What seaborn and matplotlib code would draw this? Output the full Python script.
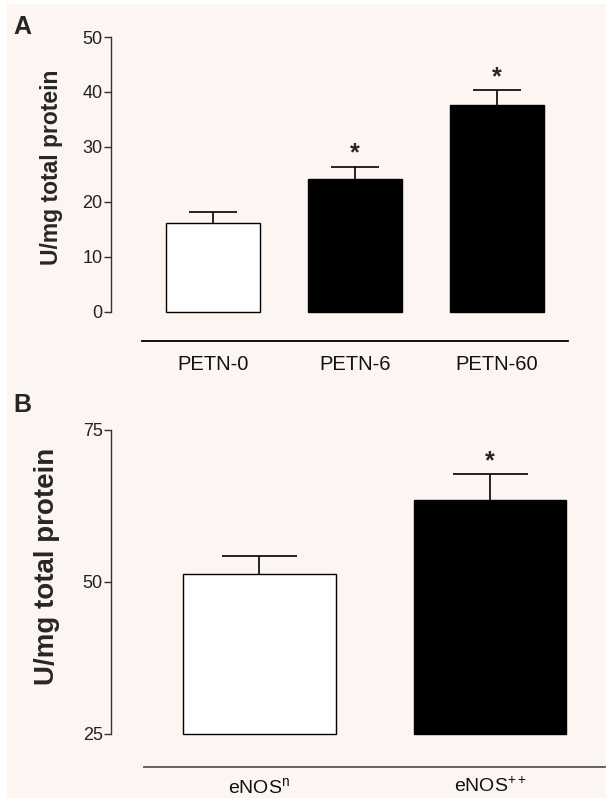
import matplotlib
matplotlib.use("Agg")
import matplotlib.pyplot as plt
import seaborn as sns
import pandas as pd
from matplotlib.patches import Rectangle

# ---- data ----
cats_a = ["PETN-0", "PETN-6", "PETN-60"]
vals_a = [16.1, 24.1, 37.6]
err_a = [2.0, 2.3, 2.7]
sig_a = [False, True, True]
colors_a = ["white", "black", "black"]
yticks_a = [0, 10, 20, 30, 40, 50]

cats_b = [r"eNOS$^{\mathregular{n}}$", r"eNOS$^{\mathregular{++}}$"]
vals_b = [51.3, 63.5]
err_b = [3.0, 4.2]
sig_b = [False, True]
colors_b = ["white", "black"]
yticks_b = [25, 50, 75]
base_b = 25

bg = "#FDF5F2"
sns.set_theme(style="ticks")
plt.rcParams["font.family"] = ["Liberation Sans", "DejaVu Sans"]
plt.rcParams["mathtext.fontset"] = "custom"
plt.rcParams["mathtext.rm"] = "Liberation Sans"
plt.rcParams["mathtext.it"] = "Liberation Sans"

W, H = 606, 798
fig = plt.figure(figsize=(W / 100, H / 100), dpi=100, facecolor=bg)
fig.patches.append(Rectangle((0, 0), 7 / W, 1, transform=fig.transFigure,
                             facecolor="white", edgecolor="none", zorder=0))
fig.patches.append(Rectangle((0, 1 - 4 / H), 1, 4 / H, transform=fig.transFigure,
                             facecolor="white", edgecolor="none", zorder=0))


def px_axes(left, right, top, bottom):
    return fig.add_axes([left / W, 1 - bottom / H, (right - left) / W, (bottom - top) / H])


def style(ax, ymin_spine, ymax_spine, ncat, linecol):
    ax.set_facecolor("none")
    for s in ["top", "right"]:
        ax.spines[s].set_visible(False)
    ax.spines["left"].set_bounds(ymin_spine, ymax_spine)
    ax.spines["left"].set_color("#333333")
    ax.spines["left"].set_linewidth(1.0)
    ax.spines["bottom"].set_bounds(-0.5, ncat - 0.5)
    ax.spines["bottom"].set_color(linecol)
    ax.spines["bottom"].set_linewidth(1.3)
    ax.tick_params(axis="y", length=5, width=1.0, color="#333333", pad=1,
                   labelsize=13, labelcolor="#222222")
    ax.tick_params(axis="x", length=0, labelcolor="#111111")
    ax.set_xlabel("")


def stars(ax, vals, errs, sig):
    for i, (v, e, s) in enumerate(zip(vals, errs, sig)):
        if s:
            ax.annotate("*", (i, v + e), xytext=(0, 1), textcoords="offset points",
                        ha="center", va="bottom", fontsize=18, fontweight="bold")


# ---- Panel A ----
axA = px_axes(111, 575, 37, 341)
dfA = pd.DataFrame({"cat": cats_a, "val": vals_a})
sns.barplot(data=dfA, x="cat", y="val", hue="cat", palette=colors_a, legend=False,
            width=0.66, edgecolor="black", linewidth=1.0, ax=axA, zorder=3)
axA.errorbar(range(len(cats_a)), vals_a, yerr=err_a, fmt="none",
             ecolor="black", elinewidth=1.2, capsize=17, capthick=1.2, zorder=2)
stars(axA, vals_a, err_a, sig_a)
axA.set_xlim(-0.718, (575 - 213) / 142)
axA.set_ylim(-5.3, 50)
axA.set_yticks(yticks_a)
style(axA, 0, 50, len(cats_a), "black")
axA.tick_params(axis="x", pad=10, labelsize=14.5)
axA.set_ylabel("U/mg total protein", fontsize=16.5, fontweight="bold")
axA.yaxis.set_label_coords(-48 / 464, (5.3 + 26.3) / 55.3)

# ---- Panel B ----
axB = px_axes(111, 606, 430, 767)
dfB = pd.DataFrame({"cat": cats_b, "val": vals_b})
sns.barplot(data=dfB, x="cat", y="val", hue="cat", palette=colors_b, legend=False,
            width=0.66, edgecolor="black", linewidth=1.0, ax=axB, zorder=3)
for p in axB.patches:
    top = p.get_y() + p.get_height()
    p.set_y(base_b)
    p.set_height(top - base_b)
axB.errorbar(range(len(cats_b)), vals_b, yerr=err_b, fmt="none",
             ecolor="black", elinewidth=1.2, capsize=27, capthick=1.2, zorder=2)
stars(axB, vals_b, err_b, sig_b)
axB.set_xlim(-0.644, (606 - 259.5) / 230.5)
axB.set_ylim(19.5, 75)
axB.set_yticks(yticks_b)
style(axB, 25, 75, len(cats_b), "#555555")
axB.tick_params(axis="x", pad=7, labelsize=14)
axB.set_ylabel("U/mg total protein", fontsize=20, fontweight="bold")
axB.yaxis.set_label_coords(-51 / 495, (50 - 19.5 + 2.5) / 55.5)

fig.text(13 / W, 1 - 27 / H, "A", fontsize=18, fontweight="bold", va="center", ha="left")
fig.text(13 / W, 1 - 405 / H, "B", fontsize=18, fontweight="bold", va="center", ha="left")

fig.savefig("out.png", dpi=100, facecolor=bg)
